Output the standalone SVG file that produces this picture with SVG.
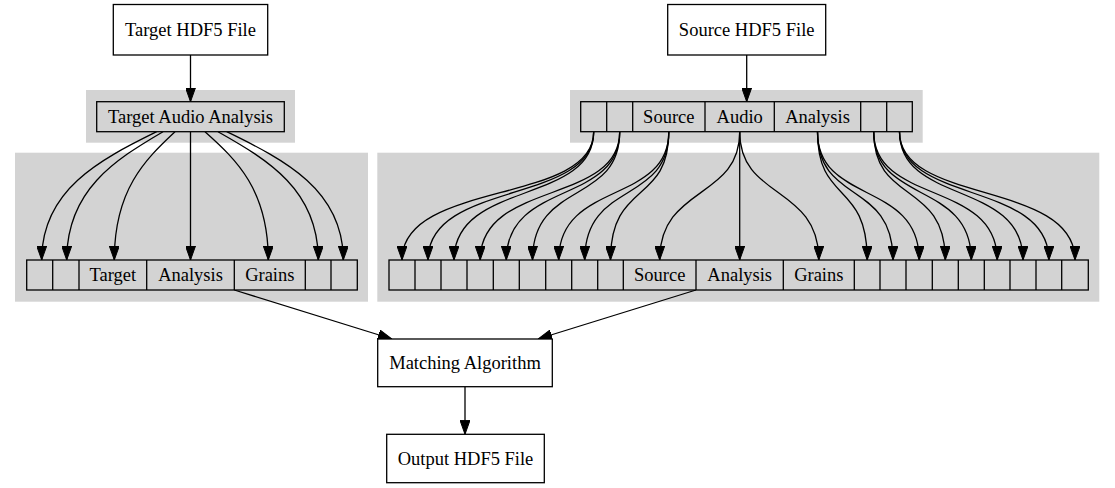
<svg xmlns="http://www.w3.org/2000/svg" width="1115" height="488" viewBox="0 0 1115 488">
<style>
.cl{fill:#d3d3d3;stroke:none}
.box{fill:#ffffff;stroke:#000;stroke-width:1.3}
.rec{fill:#d3d3d3;stroke:#000;stroke-width:1.3}
.div{stroke:#000;stroke-width:1.3}
text{font-family:"Liberation Serif","Times New Roman",serif;font-size:18.5px;text-anchor:middle;fill:#000}
.e{fill:none;stroke:#000;stroke-width:1.3;marker-end:url(#ah)}
</style>
<defs>
<marker id="ah" markerUnits="userSpaceOnUse" viewBox="0 0 14 10" markerWidth="14" markerHeight="10" refX="14" refY="5" orient="auto">
<path d="M0,0 L14,5 L0,10 z" fill="#000" stroke="#000" stroke-width="1"/>
</marker>
</defs>
<rect width="1115" height="488" fill="#fff"/>
<g id="clusters">
<rect class="cl" x="86" y="90" width="209" height="52.7"/>
<rect class="cl" x="15" y="152.7" width="353" height="149"/>
<rect class="cl" x="570" y="90" width="352.7" height="52.7"/>
<rect class="cl" x="377.3" y="152.7" width="722" height="149"/>
</g>
<g id="edges">
<path class="e" d="M190.5,55 L190.5,101.7"/>
<path class="e" d="M746.7,55 L746.7,101.7"/>
<path class="e" d="M156.7,131.7 C99.2,160 41.7,190 41.7,260"/>
<path class="e" d="M163,131.7 C114.9,160 66.7,190 66.7,260"/>
<path class="e" d="M175,131.7 C144.7,160 114.3,190 114.3,260"/>
<path class="e" d="M190.5,131.7 L190.5,260"/>
<path class="e" d="M205,131.7 C236.7,160 268.3,190 268.3,260"/>
<path class="e" d="M218,131.7 C268.2,160 318.3,190 318.3,260"/>
<path class="e" d="M226.7,131.7 C285,160 343.3,190 343.3,260"/>
<path class="e" d="M593.7,131.7 C593.7,205 402,180 402,260"/>
<path class="e" d="M593.7,131.7 C593.7,205 428,180 428,260"/>
<path class="e" d="M593.7,131.7 C593.7,205 454,180 454,260"/>
<path class="e" d="M619.7,131.7 C619.7,205 480.2,180 480.2,260"/>
<path class="e" d="M619.7,131.7 C619.7,205 506.3,180 506.3,260"/>
<path class="e" d="M619.7,131.7 C619.7,205 532.5,180 532.5,260"/>
<path class="e" d="M668.8,131.7 C668.8,205 558.7,180 558.7,260"/>
<path class="e" d="M668.8,131.7 C668.8,205 584.7,180 584.7,260"/>
<path class="e" d="M668.8,131.7 C668.8,205 610.5,180 610.5,260"/>
<path class="e" d="M739.7,131.7 C739.7,200 659.7,185 659.7,260"/>
<path class="e" d="M739.7,131.7 L739.7,260"/>
<path class="e" d="M739.7,131.7 C739.7,200 818.8,185 818.8,260"/>
<path class="e" d="M817.5,131.7 C817.5,205 867.2,180 867.2,260"/>
<path class="e" d="M817.5,131.7 C817.5,205 893,180 893,260"/>
<path class="e" d="M817.5,131.7 C817.5,205 919.2,180 919.2,260"/>
<path class="e" d="M873.7,131.7 C873.7,205 945.3,180 945.3,260"/>
<path class="e" d="M873.7,131.7 C873.7,205 971.3,180 971.3,260"/>
<path class="e" d="M873.7,131.7 C873.7,205 997.2,180 997.2,260"/>
<path class="e" d="M899.5,131.7 C899.5,205 1023,180 1023,260"/>
<path class="e" d="M899.5,131.7 C899.5,205 1048.9,180 1048.9,260"/>
<path class="e" d="M899.5,131.7 C899.5,205 1075,180 1075,260"/>
<path class="e" d="M234.3,290 L392,339"/>
<path class="e" d="M696,290 L538,339"/>
<path class="e" d="M465,386.7 L465,434.3"/>
</g>
<g id="target_file">
<rect class="box" x="113.3" y="4.5" width="154.4" height="50.5"/>
<text x="190.5" y="36">Target HDF5 File</text>
</g>
<g id="source_file">
<rect class="box" x="667.7" y="4.5" width="158" height="50.5"/>
<text x="746.7" y="36">Source HDF5 File</text>
</g>
<g id="target_analysis">
<rect class="rec" x="96.7" y="101.7" width="187.6" height="30"/>
<text x="190.5" y="123">Target Audio Analysis</text>
</g>
<g id="target_grains">
<rect class="rec" x="26.7" y="260" width="330.6" height="30"/>
<path class="div" d="M52.7,260V290M79,260V290M146.7,260V290M234.3,260V290M305.3,260V290M331,260V290"/>
<text x="112.8" y="281.3">Target</text>
<text x="190.5" y="281.3">Analysis</text>
<text x="269.8" y="281.3">Grains</text>
</g>
<g id="source_analysis">
<rect class="rec" x="580.7" y="101.7" width="331.6" height="30"/>
<path class="div" d="M606.7,101.7V131.7M632.7,101.7V131.7M705,101.7V131.7M774.3,101.7V131.7M860.7,101.7V131.7M886.7,101.7V131.7"/>
<text x="668.8" y="123">Source</text>
<text x="739.7" y="123">Audio</text>
<text x="817.5" y="123">Analysis</text>
</g>
<g id="source_grains">
<rect class="rec" x="389" y="260" width="699.3" height="30"/>
<path class="div" d="M415,260V290M441,260V290M467,260V290M493.3,260V290M519.3,260V290M545.7,260V290M571.7,260V290M597.7,260V290M623.3,260V290M696,260V290M783.3,260V290M854.3,260V290M880,260V290M906,260V290M932.3,260V290M958.3,260V290M984.3,260V290M1010,260V290M1036,260V290M1061.7,260V290"/>
<text x="659.7" y="281.3">Source</text>
<text x="739.7" y="281.3">Analysis</text>
<text x="818.8" y="281.3">Grains</text>
</g>
<g id="matching">
<rect class="box" x="377.7" y="339" width="174.6" height="47.7"/>
<text x="465" y="369">Matching Algorithm</text>
</g>
<g id="output_file">
<rect class="box" x="386.7" y="434.3" width="157.6" height="48.4"/>
<text x="465.5" y="464.8">Output HDF5 File</text>
</g>
</svg>
